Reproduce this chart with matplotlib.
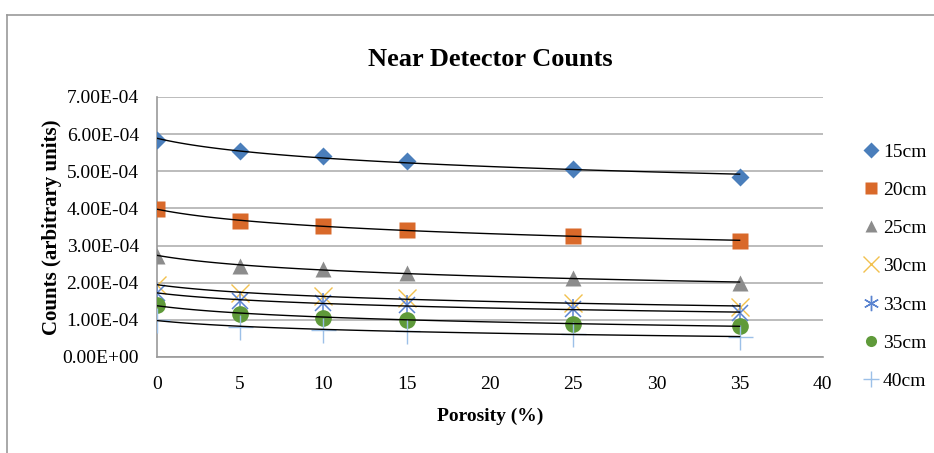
import numpy as np
import matplotlib.pyplot as plt
from matplotlib.lines import Line2D

plt.rcParams['font.family'] = ['Liberation Serif', 'DejaVu Serif']

porosity = [0, 5, 10, 15, 25, 35]
labels = ['15cm', '20cm', '25cm', '30cm', '33cm', '35cm', '40cm']

# counts (x1e-4)
c15 = [5.84, 5.55, 5.41, 5.28, 5.06, 4.84]
c20 = [3.98, 3.66, 3.53, 3.42, 3.25, 3.13]
c25 = [2.73, 2.46, 2.36, 2.27, 2.13, 1.98]
c30 = [1.94, 1.73, 1.64, 1.58, 1.45, 1.35]
c33 = [1.72, 1.52, 1.46, 1.40, 1.28, 1.18]
c35 = [1.40, 1.16, 1.06, 1.00, 0.90, 0.84]
c40 = [1.00, 0.80, 0.73, 0.69, 0.62, 0.55]

series = [c15, c20, c25, c30, c33, c35, c40]
colors = ['#4a7ebb', '#d9692a', '#8c8c8c', '#f2c14e', '#5b84d0', '#5f9a3a', '#9cc0e8']
markers = ['D', 's', '^', 'x', 'x', 'o', '+']
sizes = [9, 12, 11, 13, 11, 12, 18]

fig = plt.figure(figsize=(9.34, 4.53), dpi=100)
ax = fig.add_axes([0.168, 0.212, 0.713, 0.574])

# outer chart border
fig.add_artist(plt.Line2D([0.007, 0.007], [0, 0.967], color='#9a9a9a', lw=1.2,
                          transform=fig.transFigure))
fig.add_artist(plt.Line2D([0.007, 1.0], [0.967, 0.967], color='#9a9a9a', lw=1.2,
                          transform=fig.transFigure))

x = np.array(porosity)
xs = np.linspace(0, 35, 100)
handles = []
for vals, lab, col, mk, ms in zip(series, labels, colors, markers, sizes):
    y = np.array(vals) * 1e-4
    if lab == '33cm':
        ax.plot(x, y, linestyle='none', marker='x', ms=ms, mew=1.1, color=col, zorder=3)
        ax.plot(x, y, linestyle='none', marker='|', ms=ms + 4, mew=1.1, color=col, zorder=3)
        h = Line2D([], [], linestyle='none', marker=(6, 2, 0), ms=11, mew=1.0, color=col)
    elif mk in ('x', '+'):
        ax.plot(x, y, linestyle='none', marker=mk, ms=ms, mew=1.0, color=col, zorder=3)
        h = Line2D([], [], linestyle='none', marker=mk, ms=11, mew=1.0, color=col)
    else:
        ax.plot(x, y, linestyle='none', marker=mk, ms=ms, mec='none', color=col, zorder=3)
        h = Line2D([], [], linestyle='none', marker=mk, ms=8, mec='none', color=col)
    handles.append(h)
    # log trendline
    p = np.polyfit(np.log(x + 4), y, 1)
    ax.plot(xs, np.polyval(p, np.log(xs + 4)), color='black', lw=1.0, zorder=4)

ax.set_xlim(0, 40)
ax.set_ylim(0, 7e-4)
ax.set_xticks(range(0, 45, 5))
ax.set_yticks(np.arange(0, 8e-4, 1e-4))
ax.set_yticklabels(['%.2E' % v for v in np.arange(0, 8e-4, 1e-4)])
ax.tick_params(length=0, labelsize=14)
ax.tick_params(axis='y', pad=13)
ax.tick_params(axis='x', pad=14)
ax.yaxis.grid(True, color='#b0b0b0', lw=1.2)
ax.set_axisbelow(True)
for s in ['top', 'right']:
    ax.spines[s].set_visible(False)
for s in ['left', 'bottom']:
    ax.spines[s].set_color('#9a9a9a')
    ax.spines[s].set_linewidth(1.2)

ax.set_title('Near Detector Counts', fontsize=19, fontweight='bold', pad=22)
ax.set_xlabel('Porosity (%)', fontsize=14, fontweight='bold', labelpad=10)
ax.set_ylabel('Counts (arbitrary units)', fontsize=15, fontweight='bold', labelpad=0)

ax.legend(handles, labels, loc='center left', bbox_to_anchor=(1.035, 0.348),
          frameon=False, fontsize=14, handlelength=0.8, handletextpad=0.2,
          labelspacing=1.06)

fig.savefig('out.png', dpi=100)
